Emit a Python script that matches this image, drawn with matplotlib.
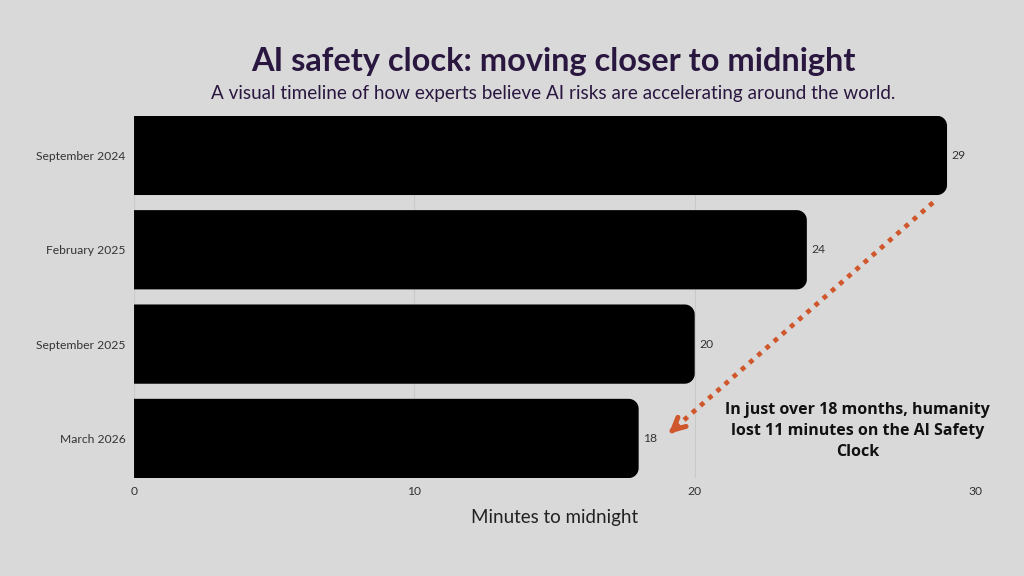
import numpy as np
import matplotlib.pyplot as plt
from matplotlib.patches import Polygon

# Chart data
dates = ["September 2024", "February 2025", "September 2025", "March 2026"]
minutes = [29, 24, 20, 18]
x_ticks = [0, 10, 20, 30]

BG = "#d9d9d9"
TITLE_COLOR = "#2a1740"
ARROW_COLOR = "#d0562c"

plt.rcParams["font.family"] = ["Lato", "DejaVu Sans"]

fig = plt.figure(figsize=(10.24, 5.76), dpi=100, facecolor=BG)
ax_rect = [0.1309, 0.170, 0.8213, 0.629]
ax = fig.add_axes(ax_rect)
ax.set_facecolor(BG)

ax.set_xlim(0, 30)
ax.set_ylim(len(dates) - 1 + 0.42, -0.42)

# vertical gridlines behind the bars
for t in x_ticks:
    ax.axvline(t, color="#c9c9c9", lw=0.8, zorder=0)

bar_h = 0.84
# px per data unit, so the rounded corners stay circular
x_px = ax_rect[2] * 1024 / 30
y_px = ax_rect[3] * 576 / (len(dates) - 1 + 0.84)
rx = 10 / x_px
ry = 10 / y_px
theta = np.linspace(0, np.pi / 2, 12)


# bar with square left end and rounded right corners
def rounded_bar(y, v):
    top = y - bar_h / 2
    bot = y + bar_h / 2
    pts = [(0, top)]
    for a in theta[::-1]:
        pts.append((v - rx + rx * np.cos(a), top + ry - ry * np.sin(a)))
    for a in theta:
        pts.append((v - rx + rx * np.cos(a), bot - ry + ry * np.sin(a)))
    pts.append((0, bot))
    return Polygon(pts, closed=True, facecolor="black", edgecolor="none",
                   zorder=2)


for i, v in enumerate(minutes):
    ax.add_patch(rounded_bar(i, v))
    ax.text(v + 0.15, i, str(v), va="center", ha="left",
            fontsize=8.7, color="#333333")

ax.set_yticks(range(len(dates)))
ax.set_yticklabels(dates, fontsize=8.7, color="#333333")
ax.set_xticks(x_ticks)
ax.set_xticklabels([str(t) for t in x_ticks], fontsize=8.7, color="#333333")
ax.tick_params(length=0, pad=6)
for s in ax.spines.values():
    s.set_visible(False)

ax.set_xlabel("Minutes to midnight", fontsize=13.5, color="#222222",
              labelpad=8)

fig.text(0.540, 0.893, "AI safety clock: moving closer to midnight",
         ha="center", va="center", fontsize=23.4, fontweight="bold",
         color=TITLE_COLOR)
fig.text(0.540, 0.837,
         "A visual timeline of how experts believe AI risks are accelerating around the world.",
         ha="center", va="center", fontsize=13.6, color=TITLE_COLOR)

# dotted arrow from the first bar down to the last one
start = (28.5, 0.50)
end = (19.0, 2.97)
ax.plot([start[0], end[0] + 0.25], [start[1], end[1] - 0.07],
        color=ARROW_COLOR, lw=3.4, linestyle=(0, (1, 1.3)),
        solid_capstyle="butt", zorder=3)
ax.annotate("", xy=end, xytext=(end[0] + 0.3, end[1] - 0.08),
            arrowprops=dict(arrowstyle="->", color=ARROW_COLOR, lw=3.6,
                            mutation_scale=22), zorder=3)

ax.text(25.8, 2.92,
        "In just over 18 months, humanity\nlost 11 minutes on the AI Safety\nClock",
        ha="center", va="center", fontsize=11.5, fontweight="bold",
        family=["Open Sans", "DejaVu Sans"], color="#111111", linespacing=1.42)

fig.savefig("out.png", dpi=100, facecolor=BG)
